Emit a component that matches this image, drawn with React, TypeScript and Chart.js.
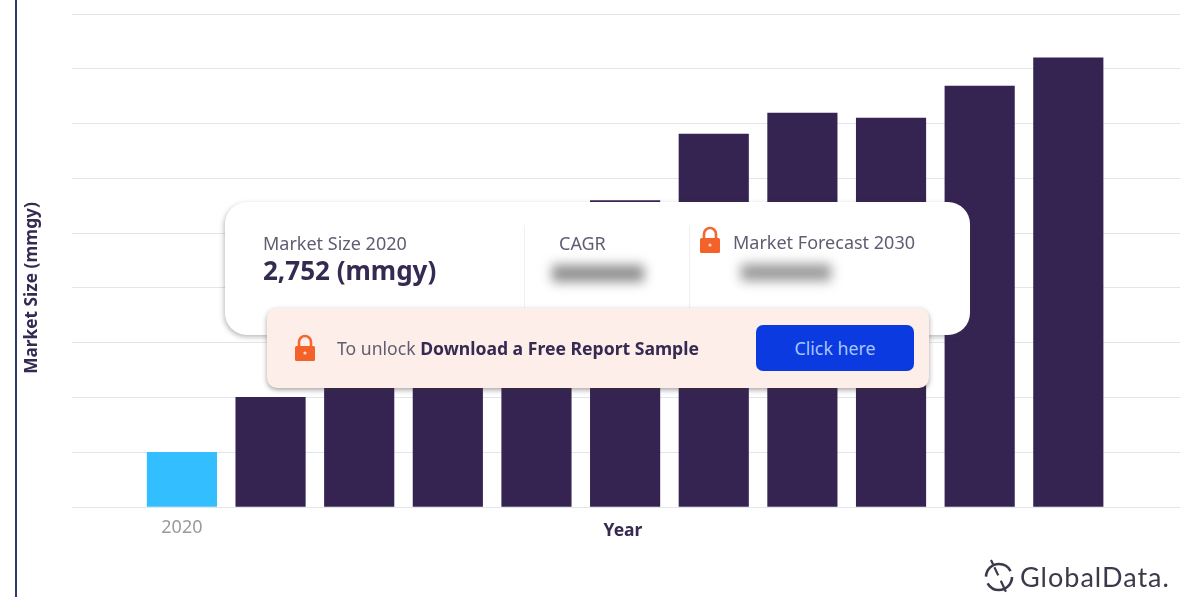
import React, { useEffect, useRef } from "react";
import { Chart, registerables } from "chart.js";

Chart.register(...registerables);

const years = [2020, 2021, 2022, 2023, 2024, 2025, 2026, 2027, 2028, 2029, 2030];
const marketSize = [2752, 5504, 8200, 10000, 12500, 15390, 18740, 19790, 19540, 21150, 22560];
const HIST = "#33bfff";
const FORECAST = "#352452";
const barColors = years.map((y) => (y === 2020 ? HIST : FORECAST));
const tickStep = 2752;
const tickMax = 24768;
const FONT = '"Noto Sans", sans-serif';
const INK = "#352a52";
const MUTED = "#5f5d72";

const abs = (left: number, top: number, extra: React.CSSProperties = {}): React.CSSProperties => ({
  position: "absolute",
  left,
  top,
  ...extra,
});

function Lock({ x, y }: { x: number; y: number }) {
  return (
    <svg style={abs(x, y)} width="22" height="28" viewBox="0 0 22 28">
      <path d="M5 13V8a6 6 0 0 1 12 0v5" fill="none" stroke="#f2682f" strokeWidth="2.6" />
      <rect x="1" y="12" width="20" height="15" rx="1.5" fill="#f4622a" />
      <circle cx="11" cy="19" r="1.6" fill="#ffd9c8" />
    </svg>
  );
}

function Label({ x, cy, size, color, weight, children }: any) {
  return (
    <div
      style={abs(x, cy - 15, {
        height: 30,
        lineHeight: "30px",
        fontSize: size,
        color,
        fontWeight: weight ?? 400,
        whiteSpace: "nowrap",
        fontFamily: FONT,
      })}
    >
      {children}
    </div>
  );
}

const nudgeTitles = {
  id: "nudgeTitles",
  afterLayout(c: any) {
    c.scales.y.bottom += 55;
    c.scales.x.left -= 3;
    c.scales.x.right -= 3;
  },
};

export default function App() {
  const ref = useRef<HTMLCanvasElement>(null);
  useEffect(() => {
    const chart = new Chart(ref.current!, {
      type: "bar",
      plugins: [nudgeTitles],
      data: {
        datasets: [
          {
            data: years.map((y, i) => ({ x: y, y: marketSize[i] })),
            backgroundColor: barColors,
            barThickness: 69.5,
            borderWidth: 0,
          },
        ],
      },
      options: {
        responsive: false,
        animation: false,
        layout: { padding: { top: 14, right: 20, left: 0, bottom: 0 } },
        plugins: { legend: { display: false }, tooltip: { enabled: false } },
        scales: {
          x: {
            type: "linear",
            offset: false,
            min: 2018.76,
            max: 2031.26,
            grid: { display: false },
            border: { display: false },
            afterBuildTicks: (s: any) => {
              s.ticks = [{ value: 2020 }];
            },
            afterFit: (s: any) => {
              s.height = 93;
            },
            ticks: {
              callback: (v: any) => String(v),
              color: "#9b9b9b",
              padding: 2,
              maxRotation: 0,
              font: { family: FONT, size: 18 },
            },
            title: {
              display: true,
              text: "Year",
              color: INK,
              padding: { top: 0, bottom: 58 },
              font: { family: FONT, size: 17.5, weight: "bold" },
            },
          },
          y: {
            min: 0,
            max: tickMax,
            afterFit: (s: any) => {
              s.width = 72;
            },
            border: { display: false },
            grid: { color: "#e2e5ea", lineWidth: 1, drawTicks: false },
            ticks: { display: false, stepSize: tickStep },
            title: {
              display: true,
              text: "Market Size (mmgy)",
              color: INK,
              padding: { top: 22, bottom: 0 },
              font: { family: FONT, size: 17.3, weight: "bold" },
            },
          },
        },
      },
    });
    return () => chart.destroy();
  }, []);

  return (
    <div style={{ position: "fixed", left: 0, top: 0, width: 1200, height: 600, background: "#fff", overflow: "hidden" }}>
      <canvas ref={ref} width={1200} height={600} style={{ position: "absolute", left: 0, top: 0 }} />
      <div style={abs(15, 0, { width: 1.5, height: 597, background: "#2d3a6a" })} />

      <div
        style={abs(225, 202, {
          width: 745,
          height: 133,
          background: "#fff",
          borderRadius: 22,
          boxShadow: "-1px 2px 5px rgba(60,60,70,0.35)",
        })}
      />
      <div style={abs(524, 225, { width: 1, height: 83, background: "#f0f0f2" })} />
      <div style={abs(689, 225, { width: 1, height: 83, background: "#f0f0f2" })} />
      <Label x={263} cy={243} size={18} color={MUTED}>Market Size 2020</Label>
      <Label x={263} cy={270} size={26} color={INK} weight={700}>2,752 (mmgy)</Label>
      <Label x={559} cy={243} size={18} color={MUTED}>CAGR</Label>
      <div style={abs(552, 265, { width: 92, height: 17, background: "#8f8f8f", filter: "blur(6px)" })} />
      <Lock x={699} y={226} />
      <Label x={733} cy={242} size={18} color={MUTED}>Market Forecast 2030</Label>
      <div style={abs(741, 264, { width: 90, height: 17, background: "#9a9a9a", filter: "blur(6px)" })} />

      <div
        style={abs(267, 308, {
          width: 662,
          height: 80,
          background: "#fdeee9",
          borderRadius: 10,
          boxShadow: "0 2px 5px rgba(60,50,50,0.45)",
        })}
      />
      <Lock x={294} y={334} />
      <div
        style={abs(337, 333, {
          height: 30,
          lineHeight: "30px",
          fontSize: 17.6,
          color: MUTED,
          whiteSpace: "nowrap",
          fontFamily: FONT,
        })}
      >
        To unlock <b style={{ color: INK }}>Download a Free Report Sample</b>
      </div>
      <div
        style={abs(756, 325, {
          width: 158,
          height: 46,
          lineHeight: "46px",
          background: "#0a3ae0",
          borderRadius: 7,
          textAlign: "center",
          color: "#a8c6ff",
          fontSize: 17.8,
          fontFamily: FONT,
        })}
      >
        Click here
      </div>

      <svg style={abs(982, 557)} width="36" height="40" viewBox="0 0 36 40">
        <circle cx="17" cy="20" r="13" fill="none" stroke="#3a3a4a" strokeWidth="2.6" strokeDasharray="34 7" />
        <path d="M9 3 L25 37" stroke="#3a3a4a" strokeWidth="2.2" strokeDasharray="5 3 9 6 12" />
      </svg>
      <Label x={1020} cy={577} size={27} color="#3a3a4a" weight={400}>
        <span style={{ fontFamily: "Lato, sans-serif", letterSpacing: 1 }}>GlobalData.</span>
      </Label>
    </div>
  );
}
